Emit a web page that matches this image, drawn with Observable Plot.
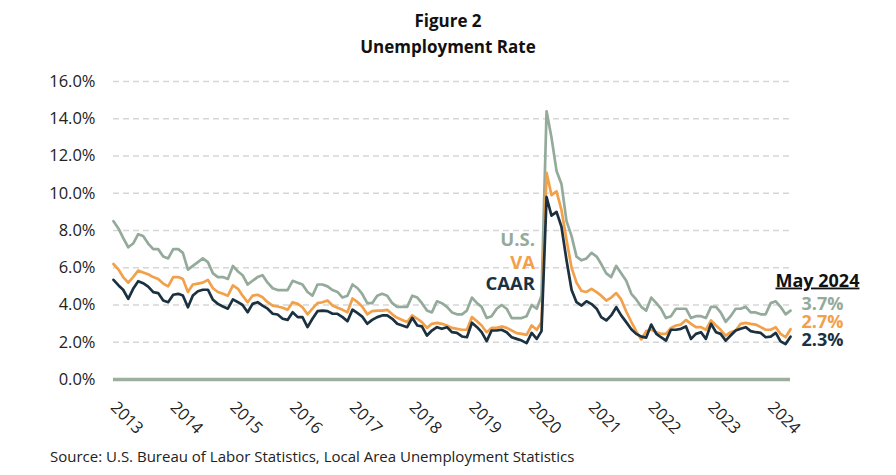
<!DOCTYPE html>
<html>
<head>
<meta charset="utf-8">
<script src="https://cdn.jsdelivr.net/npm/d3@7"></script>
<script src="https://cdn.jsdelivr.net/npm/@observablehq/plot@0.6"></script>
<style>
  body { margin: 0; background: #fff; font-family: "Open Sans", sans-serif; width: 896px; }
  #title { height: 62px; box-sizing: border-box; padding-top: 8px; text-align: center; font-weight: 700; font-size: 17px; line-height: 26px; color: #111; }
  #source { height: 28px; box-sizing: border-box; padding-top: 0px; padding-left: 50px; font-size: 15px; line-height: 18px; color: #222; }
</style>
</head>
<body>
<div id="title">Figure 2<br>Unemployment Rate</div>
<div id="chart"></div>
<div id="source">Source: U.S. Bureau of Labor Statistics, Local Area Unemployment Statistics</div>
<script>
// Monthly, not seasonally adjusted, Jan 2013 – May 2024
const us = [
  8.5, 8.1, 7.6, 7.1, 7.3, 7.8, 7.7, 7.3, 7.0, 7.0, 6.6, 6.5,
  7.0, 7.0, 6.8, 5.9, 6.1, 6.3, 6.5, 6.3, 5.7, 5.5, 5.5, 5.4,
  6.1, 5.8, 5.6, 5.1, 5.3, 5.5, 5.6, 5.2, 4.9, 4.8, 4.8, 4.8,
  5.3, 5.2, 5.1, 4.7, 4.5, 5.1, 5.1, 5.0, 4.8, 4.7, 4.4, 4.5,
  5.1, 4.9, 4.6, 4.1, 4.1, 4.5, 4.6, 4.5, 4.1, 3.9, 3.9, 3.9,
  4.5, 4.4, 4.1, 3.7, 3.6, 4.2, 4.1, 3.9, 3.6, 3.5, 3.5, 3.7,
  4.4, 4.1, 3.9, 3.3, 3.4, 3.8, 4.0, 3.8, 3.3, 3.3, 3.3, 3.4,
  4.0, 3.8, 4.5, 14.4, 13.0, 11.2, 10.5, 8.5, 7.7, 6.6, 6.4, 6.5,
  6.8, 6.6, 6.2, 5.7, 5.5, 6.1, 5.7, 5.3, 4.6, 4.3, 3.9, 3.7,
  4.4, 4.1, 3.8, 3.3, 3.4, 3.8, 3.8, 3.8, 3.3, 3.4, 3.4, 3.3,
  3.9, 3.9, 3.6, 3.1, 3.4, 3.8, 3.8, 3.9, 3.6, 3.6, 3.5, 3.5,
  4.1, 4.2, 3.9, 3.5, 3.7
];
const va = [
  6.2, 5.9, 5.5, 5.2, 5.5, 5.85, 5.75, 5.65, 5.5, 5.4, 5.15, 5.0,
  5.5, 5.5, 5.4, 4.7, 5.1, 5.15, 5.2, 5.35, 4.9, 4.7, 4.6, 4.5,
  5.05, 4.87, 4.5, 4.15, 4.5, 4.55, 4.42, 4.15, 3.97, 3.92, 3.85, 3.74,
  4.15, 4.06, 3.88, 3.5, 3.8, 4.1, 4.15, 4.24, 3.97, 3.85, 3.74, 3.61,
  4.35, 4.15, 3.92, 3.5, 3.67, 3.7, 3.7, 3.74, 3.5, 3.31, 3.2, 3.08,
  3.44, 3.26, 3.08, 2.77, 2.99, 3.04, 2.99, 2.9, 2.77, 2.72, 2.67, 2.67,
  3.35, 3.13, 2.9, 2.54, 2.77, 2.77, 2.85, 2.77, 2.63, 2.49, 2.45, 2.4,
  2.9, 2.67, 3.08, 11.1, 9.9, 10.1, 9.1, 7.5, 6.0, 5.2, 4.75, 4.7,
  4.87, 4.69, 4.5, 4.24, 4.4, 4.64, 4.3, 3.65, 3.1, 2.6, 2.15, 2.6,
  2.67, 2.54, 2.45, 2.45, 2.77, 2.9, 2.95, 3.2, 2.99, 2.81, 2.81, 2.67,
  3.17, 2.9, 2.67, 2.36, 2.54, 2.63, 2.99, 3.04, 2.99, 2.95, 2.81, 2.67,
  2.67, 2.81, 2.45, 2.27, 2.7
];
const caar = [
  5.35, 5.05, 4.82, 4.33, 4.87, 5.28, 5.17, 4.99, 4.69, 4.64, 4.24, 4.15,
  4.55, 4.6, 4.51, 3.88, 4.51, 4.74, 4.82, 4.82, 4.28, 4.06, 3.92, 3.8,
  4.3, 4.15, 4.0, 3.61, 4.06, 4.15, 3.97, 3.8, 3.53, 3.49, 3.26, 3.2,
  3.61, 3.35, 3.35, 2.81, 3.26, 3.67, 3.7, 3.67, 3.53, 3.53, 3.35, 3.13,
  3.75, 3.56, 3.38, 2.99, 3.2, 3.35, 3.44, 3.44, 3.26, 2.99, 2.9, 2.81,
  3.31, 2.9, 2.85, 2.36, 2.63, 2.81, 2.72, 2.81, 2.54, 2.5, 2.31, 2.27,
  3.05, 2.81, 2.54, 2.06, 2.63, 2.63, 2.67, 2.54, 2.27, 2.18, 2.09, 1.95,
  2.5, 2.18, 2.6, 9.8, 8.8, 9.0, 8.2, 6.4, 4.8, 4.15, 3.97, 4.2,
  4.05, 3.8, 3.35, 3.17, 3.44, 3.88, 3.44, 3.08, 2.7, 2.45, 2.3, 2.25,
  2.95, 2.45, 2.27, 2.09, 2.67, 2.67, 2.72, 2.85, 2.18, 2.45, 2.54, 2.18,
  2.99, 2.54, 2.45, 2.09, 2.36, 2.63, 2.72, 2.81, 2.6, 2.54, 2.5, 2.27,
  2.3, 2.5, 2.05, 1.9, 2.3
];
const seriesNames = ["U.S.", "VA", "CAAR"];
const seriesColors = ["#94aa9b", "#f2a04a", "#1c3140"];
const latestLabels = ["3.7%", "2.7%", "2.3%"];
const latestTitle = "May 2024";
const yTicks = [0, 2, 4, 6, 8, 10, 12, 14, 16];
const startDate = new Date(Date.UTC(2013, 0, 1));
const endDate = new Date(Date.UTC(2024, 4, 1));
const yearTicks = d3.utcYear.range(startDate, new Date(Date.UTC(2025, 0, 1)));

// annotation placement (data space)
const inlineLabelX = new Date(Date.UTC(2020, 0, 21));
const inlineLabelY = [7.46, 6.25, 5.1];
const latestLabelY = [4.06, 3.08, 2.09];
const latestTitleY = 5.3;

const months = d3.utcMonth.range(startDate, d3.utcMonth.offset(endDate, 1));
const seriesValues = [us, va, caar];
const rows = seriesValues.flatMap((vals, s) =>
  vals.map((v, i) => ({ date: months[i], series: seriesNames[s], value: v })));
const inline = seriesNames.map((n, s) => ({ x: inlineLabelX, y: inlineLabelY[s], text: n, color: seriesColors[s] }));
const latest = latestLabels.map((t, s) => ({ x: endDate, y: latestLabelY[s], text: t, color: seriesColors[s] }));

const chart = Plot.plot({
  width: 896,
  height: 385,
  marginLeft: 113,
  marginRight: 106,
  marginTop: 19,
  marginBottom: 68,
  style: { fontFamily: "Open Sans", fontSize: "16.5px", color: "#222", background: "#fff", overflow: "visible" },
  x: {
    type: "utc",
    domain: [startDate, endDate],
    ticks: yearTicks,
    tickFormat: d3.utcFormat("%Y"),
    tickRotate: 45,
    tickSize: 0,
    tickPadding: 25,
    label: null
  },
  y: {
    domain: [0, 16],
    ticks: yTicks,
    tickFormat: d => d.toFixed(1) + "%",
    tickSize: 0,
    tickPadding: 18,
    label: null
  },
  color: { domain: seriesNames, range: seriesColors },
  marks: [
    Plot.ruleY(yTicks.filter(d => d > 0), { stroke: "#d6d6d6", strokeWidth: 1.5, strokeDasharray: "6,4" }),
    Plot.ruleY([0], { stroke: "#9caf9f", strokeWidth: 3.5 }),
    Plot.line(rows, { x: "date", y: "value", z: "series", stroke: "series", strokeWidth: 2.7, strokeLinejoin: "round" }),
    Plot.text(inline, { x: "x", y: "y", text: "text", fill: "color", textAnchor: "end", fontSize: 18.5, fontWeight: "bold" }),
    Plot.text(latest, { x: "x", y: "y", text: "text", fill: "color", textAnchor: "start", dx: 11, fontSize: 18, fontWeight: "bold" }),
    Plot.text([latestTitle], { x: () => endDate, y: () => latestTitleY, text: d => d, fill: "#111", textAnchor: "start", dx: -15, fontSize: 18, fontWeight: "bold" })
  ]
});
d3.select(chart).selectAll("text").filter(function () { return this.textContent === latestTitle; })
  .style("text-decoration", "underline");
document.getElementById("chart").appendChild(chart);
</script>
</body>
</html>
